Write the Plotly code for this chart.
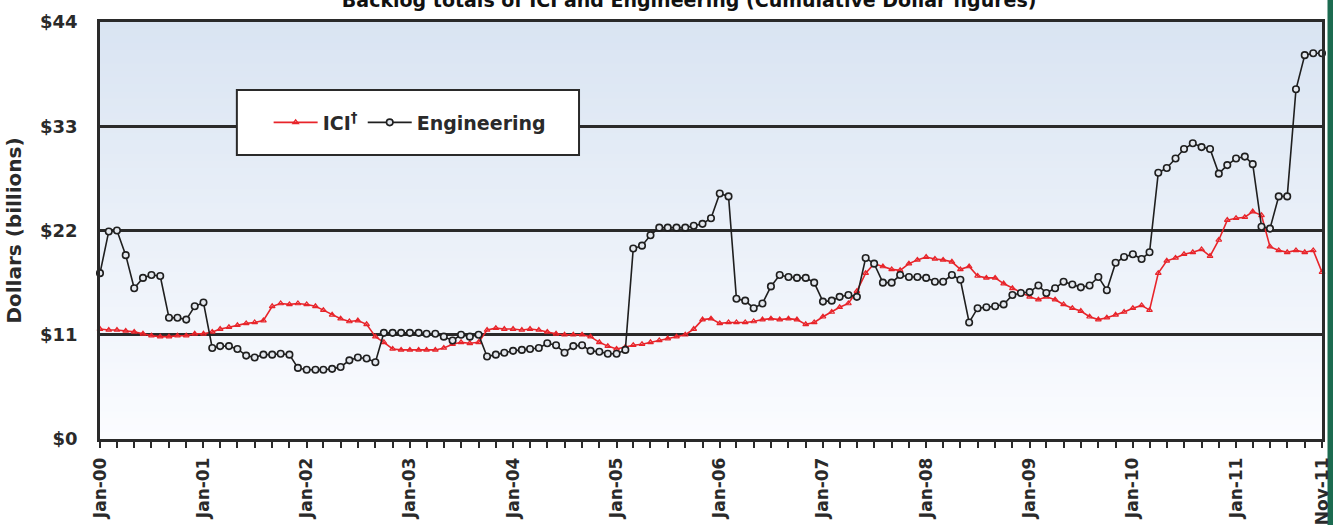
import pandas as pd
import plotly.graph_objects as go

# ---------------- data ----------------
start_month = "2000-01-01"
n_months = 143  # Jan-00 .. Nov-11

ici = [
    11.6, 11.5, 11.5, 11.4, 11.3, 11.1, 10.9, 10.8, 10.8, 10.9, 10.9, 11.1,
    11.1, 11.3, 11.6, 11.8, 12.0, 12.2, 12.3, 12.5, 14.0, 14.3, 14.2, 14.3,
    14.2, 14.0, 13.6, 13.1, 12.7, 12.4, 12.5, 12.1, 10.8, 10.2, 9.5, 9.4,
    9.4, 9.4, 9.4, 9.4, 9.6, 10.0, 10.2, 10.1, 10.2, 11.5, 11.7, 11.6,
    11.6, 11.5, 11.6, 11.5, 11.3, 11.1, 11.0, 11.0, 11.0, 10.8, 10.2, 9.8,
    9.5, 9.7, 9.9, 10.0, 10.2, 10.4, 10.6, 10.8, 11.0, 11.6, 12.6, 12.7,
    12.2, 12.3, 12.3, 12.3, 12.4, 12.6, 12.7, 12.6, 12.7, 12.6, 12.1, 12.3,
    12.9, 13.4, 13.9, 14.3, 15.6, 17.5, 18.5, 18.2, 17.9, 17.8, 18.5, 18.9,
    19.2, 19.0, 18.9, 18.7, 17.9, 18.2, 17.2, 17.0, 17.0, 16.4, 15.9, 15.5,
    15.0, 14.7, 15.0, 14.7, 14.2, 13.8, 13.5, 12.9, 12.6, 12.8, 13.1, 13.4,
    13.8, 14.1, 13.6, 17.5, 18.8, 19.1, 19.5, 19.7, 20.0, 19.3, 21.0, 23.1,
    23.3, 23.4, 24.0, 23.6, 20.3, 19.9, 19.7, 19.9, 19.7, 19.9, 17.6,
]

engineering = [
    17.5, 21.9, 22.0, 19.4, 15.9, 17.0, 17.3, 17.2, 12.8, 12.8, 12.6, 14.0,
    14.4, 9.6, 9.8, 9.8, 9.5, 8.8, 8.6, 8.9, 8.9, 9.0, 8.9, 7.5,
    7.3, 7.3, 7.3, 7.4, 7.6, 8.3, 8.6, 8.5, 8.1, 11.2, 11.2, 11.2,
    11.2, 11.2, 11.1, 11.1, 10.8, 10.4, 11.0, 10.8, 11.0, 8.7, 8.9, 9.1,
    9.3, 9.4, 9.5, 9.6, 10.1, 9.9, 9.1, 9.8, 9.9, 9.3, 9.2, 9.0,
    9.0, 9.4, 20.1, 20.4, 21.5, 22.3, 22.3, 22.3, 22.3, 22.5, 22.7, 23.3,
    25.9, 25.6, 14.8, 14.6, 13.8, 14.3, 16.1, 17.3, 17.1, 17.0, 17.0, 16.5,
    14.5, 14.6, 15.0, 15.2, 15.0, 19.1, 18.5, 16.5, 16.5, 17.3, 17.1, 17.1,
    17.0, 16.6, 16.6, 17.3, 16.8, 12.3, 13.8, 13.9, 14.0, 14.2, 15.2, 15.4,
    15.5, 16.2, 15.4, 15.9, 16.6, 16.3, 16.0, 16.2, 17.1, 15.7, 18.6, 19.2,
    19.5, 19.0, 19.7, 28.1, 28.6, 29.6, 30.6, 31.2, 30.8, 30.6, 28.0, 28.9,
    29.6, 29.8, 29.0, 22.4, 22.2, 25.6, 25.6, 36.9, 40.5, 40.7, 40.7,
]

y_ticks = [0, 11, 22, 33, 44]
y_tick_labels = ["$0", "$11", "$22", "$33", "$44"]

series_names = ["ICI<sup>\u2020</sup>", "Engineering"]
y_title = "Dollars (billions)"
chart_title = "Backlog totals of ICI and Engineering (Cumulative Dollar figures)"

# ---------------- derived ----------------
dates = pd.date_range(start_month, periods=n_months, freq="MS")
tick_dates = dates[::2]
tick_text = []
for d in tick_dates:
    if d.month == 1:
        tick_text.append(d.strftime("Jan-%y"))
    elif d == dates[-1]:
        tick_text.append(d.strftime("%b-%y"))
    else:
        tick_text.append(" ")

FONT = "DejaVu Sans"
DARK = "#2a2a2a"

fig = go.Figure()

# gradient background bands (top light blue -> bottom near white)
n_bands = 60
top_rgb = (217, 228, 242)
bot_rgb = (251, 252, 255)
for k in range(n_bands):
    f0 = k / n_bands
    f1 = (k + 1) / n_bands
    t = (f0 + f1) / 2  # 0 bottom, 1 top
    c = tuple(round(bot_rgb[j] + (top_rgb[j] - bot_rgb[j]) * t) for j in range(3))
    fig.add_shape(type="rect", xref="x domain", yref="y domain",
                  x0=0, x1=1, y0=f0, y1=f1 + 0.002,
                  fillcolor="rgb(%d,%d,%d)" % c, line_width=0, layer="below")

fig.add_trace(go.Scatter(
    x=dates, y=ici, name=series_names[0], mode="lines+markers",
    line=dict(color="#e8242a", width=1.6),
    marker=dict(symbol="triangle-up-open", size=5, color="#e8242a",
                line=dict(width=1.2, color="#e8242a")),
    cliponaxis=False,
))
fig.add_trace(go.Scatter(
    x=dates, y=engineering, name=series_names[1], mode="lines+markers",
    line=dict(color="#1f1f1f", width=1.6),
    marker=dict(symbol="circle", size=6.5, color="#e4e8ee",
                line=dict(width=1.6, color="#1f1f1f")),
    cliponaxis=False,
))

# white legend box
fig.add_shape(type="rect", xref="paper", yref="paper",
              x0=0.112, x1=0.392, y0=0.681, y1=0.837,
              fillcolor="white", line=dict(color=DARK, width=2), layer="above")

# green strip on right edge
fig.add_shape(type="rect", xref="paper", yref="paper",
              x0=1.0045, x1=1.02, y0=-0.25, y1=1.1,
              fillcolor="#1c6b50", line_width=0, layer="below")

fig.update_layout(
    width=1333, height=525,
    margin=dict(l=100, r=11, t=22, b=86, autoexpand=False),
    paper_bgcolor="white", plot_bgcolor="white",
    font=dict(family=FONT, color=DARK, size=18),
    title=dict(text="<b>" + chart_title + "</b>", xref="container", yref="container",
               x=0.517, xanchor="center", y=1.0, yanchor="middle",
               font=dict(size=19, family=FONT, color="#111")),
    showlegend=True,
    legend=dict(orientation="h", x=0.138, xanchor="left", y=0.759, yanchor="middle",
                bgcolor="rgba(0,0,0,0)", borderwidth=0,
                font=dict(size=19, family=FONT, color=DARK, weight="bold"),
                itemwidth=44, tracegroupgap=0),
    xaxis=dict(
        type="date", range=[dates[0], dates[-1]], automargin=False,
        tickmode="array", tickvals=list(tick_dates), ticktext=tick_text,
        tickangle=-90, ticks="outside", ticklen=6, tickwidth=2, tickcolor=DARK,
        tickfont=dict(size=17, family=FONT, color=DARK, weight="bold"),
        ticklabelstandoff=3, ticklabeloverflow="allow",
        showgrid=False, zeroline=False,
        showline=True, linecolor=DARK, linewidth=2.5, mirror=True,
    ),
    xaxis2=dict(
        type="date", range=[dates[0], dates[-1]], overlaying="x", anchor="y",
        side="bottom", tickmode="array", tickvals=list(tick_dates),
        ticks="inside", ticklen=6, tickwidth=2, tickcolor=DARK, automargin=False,
        showticklabels=False, showgrid=False, zeroline=False, showline=False,
    ),
    yaxis=dict(
        range=[0, 44], tickmode="array", tickvals=y_ticks, ticktext=y_tick_labels,
        tickfont=dict(size=18, family=FONT, color=DARK, weight="bold"),
        ticks="", ticklabelstandoff=16, automargin=False,
        showgrid=True, gridcolor=DARK, gridwidth=2.5,
        zeroline=False,
        showline=True, linecolor=DARK, linewidth=2.5, mirror=True,
        title=dict(text=y_title, standoff=14,
                   font=dict(size=20, family=FONT, color=DARK, weight="bold")),
    ),
)

fig.write_html("out.html")
